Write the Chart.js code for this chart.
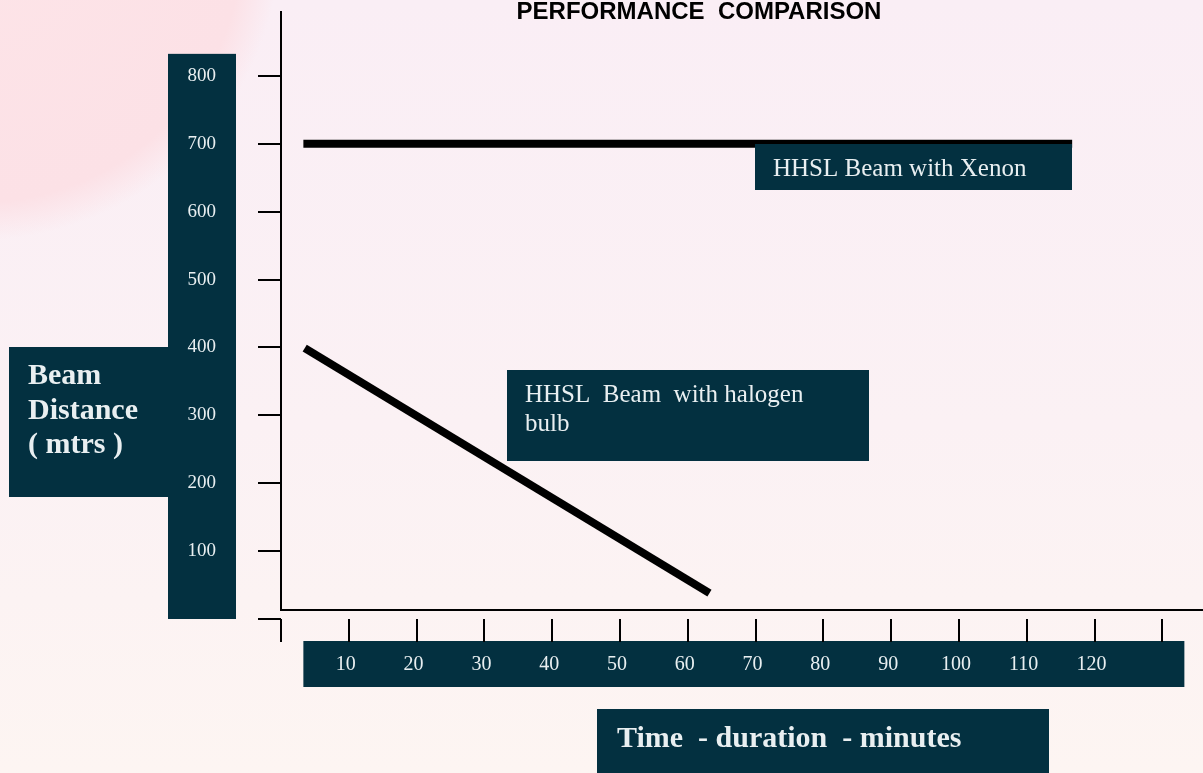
<!DOCTYPE html>
<html>
<head>
<meta charset="utf-8">
<title>Performance Comparison</title>
<script src="https://cdn.jsdelivr.net/npm/chart.js@4.4.1/dist/chart.umd.min.js"></script>
<style>
  html, body { margin: 0; padding: 0; }
  body {
    width: 1203px;
    height: 773px;
    overflow: hidden;
    background:
      radial-gradient(circle at -20px -60px, #fde4e8 0, #fce1e6 262px, rgba(251, 234, 240, 0) 300px),
      linear-gradient(to bottom, #faeef5 0%, #fbf1f4 55%, #fdf5f2 100%);
  }
  #wrap { position: relative; width: 1203px; height: 773px; }
</style>
</head>
<body>
<div id="wrap"><canvas id="perfCanvas"></canvas></div>
<script>
// values
const timeTicks = [0, 10, 20, 30, 40, 50, 60, 70, 80, 90, 100, 110, 120, 130];
const timeLabels = ["", "10", "20", "30", "40", "50", "60", "70", "80", "90", "100", "110", "120", ""];
const distanceTicks = [0, 100, 200, 300, 400, 500, 600, 700, 800];
const distanceLabels = ["", "100", "200", "300", "400", "500", "600", "700", "800"];

const xenonTime = [3.3, 116.7];
const xenonDistance = [700, 700];
const halogenTime = [3.5, 63.2];
const halogenDistance = [399, 38];

const chartTitle = "PERFORMANCE  COMPARISON";
const xenonLabel = ["HHSL Beam with Xenon"];
const halogenLabel = ["HHSL  Beam  with halogen", "bulb"];
const yTitle = ["Beam", "Distance", "( mtrs )"];
const xTitle = ["Time  - duration  - minutes"];

const BOX = "#033040";
const BOX_TEXT = "#e9eff1";
const SERIF = "'Liberation Serif', 'Times New Roman', serif";

function toPoints(xs, ys) {
  return xs.map((x, i) => ({ x: x, y: ys[i] }));
}

function textBox(ctx, rect, lines, font, textX, baselines) {
  ctx.fillStyle = BOX;
  ctx.fillRect(rect[0], rect[1], rect[2] - rect[0], rect[3] - rect[1]);
  ctx.fillStyle = BOX_TEXT;
  ctx.font = font;
  ctx.textAlign = "left";
  ctx.textBaseline = "alphabetic";
  lines.forEach((line, i) => ctx.fillText(line, textX, baselines[i]));
}

const decorations = {
  id: "decorations",
  beforeDraw(chart) {
    const ctx = chart.ctx;
    const x = chart.scales.x;
    const y = chart.scales.y;
    ctx.save();
    // boxes behind the tick labels
    ctx.fillStyle = BOX;
    ctx.fillRect(168, y.getPixelForValue(800) - 22, 68, y.getPixelForValue(0) - y.getPixelForValue(800) + 22);
    ctx.fillRect(x.getPixelForValue(3.3), x.top + 22, 881, 46);
    textBox(ctx, [9, 347, 168, 497], yTitle, "bold 30px " + SERIF, 28, [384, 419, 453]);
    textBox(ctx, [597, 709, 1049, 773], xTitle, "bold 30px " + SERIF, 617, [747]);

    // axis lines, the corner sits a little above the zero ticks
    const left = x.getPixelForValue(0);
    const cornerY = y.getPixelForValue(0) - 9;
    ctx.strokeStyle = "#000";
    ctx.lineWidth = 2;
    ctx.beginPath();
    ctx.moveTo(left, chart.chartArea.top + 1);
    ctx.lineTo(left, cornerY);
    ctx.lineTo(chart.width, cornerY);
    ctx.stroke();
    ctx.restore();
  },
  afterDatasetsDraw(chart) {
    const ctx = chart.ctx;
    ctx.save();
    textBox(ctx, [755, 144, 1072, 190], xenonLabel, "25px " + SERIF, 773, [176]);
    textBox(ctx, [507, 370, 869, 461], halogenLabel, "25px " + SERIF, 525, [402, 431]);

    ctx.fillStyle = "#000";
    ctx.font = "bold 24px 'Liberation Sans', Arial, sans-serif";
    ctx.textAlign = "center";
    ctx.textBaseline = "alphabetic";
    ctx.fillText(chartTitle, 699, 19);
    ctx.restore();
  }
};

const ctx = document.getElementById("perfCanvas").getContext("2d");

new Chart(ctx, {
  type: "line",
  data: {
    datasets: [
      {
        label: "HHSL Beam with Xenon",
        data: toPoints(xenonTime, xenonDistance),
        borderColor: "#000",
        borderWidth: 8,
        borderCapStyle: "butt",
        pointRadius: 0,
        fill: false,
        tension: 0,
      },
      {
        label: "HHSL Beam with halogen bulb",
        data: toPoints(halogenTime, halogenDistance),
        borderColor: "#000",
        borderWidth: 8,
        borderCapStyle: "butt",
        pointRadius: 0,
        fill: false,
        tension: 0,
      },
    ],
  },
  options: {
    responsive: true,
    maintainAspectRatio: false,
    animation: false,
    layout: { padding: { top: 10, left: 0, right: 0, bottom: 0 } },
    plugins: {
      legend: { display: false },
      tooltip: { enabled: false },
      title: { display: false },
    },
    scales: {
      x: {
        type: "linear",
        min: 0,
        max: 136,
        afterBuildTicks: (scale) => {
          scale.ticks = timeTicks.map((v) => ({ value: v }));
        },
        afterFit: (scale) => {
          scale.height = 154;
          scale.paddingLeft = 0;
          scale.paddingRight = 0;
        },
        ticks: {
          autoSkip: false,
          maxRotation: 0,
          padding: 11,
          labelOffset: -3,
          color: BOX_TEXT,
          font: { family: SERIF, size: 20 },
          callback: (value, index) => timeLabels[index],
        },
        grid: {
          drawOnChartArea: false,
          drawTicks: true,
          tickLength: 23,
          color: "#000",
          lineWidth: 2,
        },
        border: { display: false },
      },
      y: {
        type: "linear",
        min: 0,
        max: 897,
        afterBuildTicks: (scale) => {
          scale.ticks = distanceTicks.map((v) => ({ value: v }));
        },
        afterFit: (scale) => {
          scale.width = 281;
          scale.paddingTop = 0;
          scale.paddingBottom = 0;
        },
        ticks: {
          autoSkip: false,
          padding: 42,
          color: BOX_TEXT,
          font: { family: SERIF, size: 19 },
          callback: (value, index) => distanceLabels[index],
        },
        grid: {
          drawOnChartArea: false,
          drawTicks: true,
          tickLength: 23,
          color: "#000",
          lineWidth: 2,
        },
        border: { display: false },
      },
    },
  },
  plugins: [decorations],
});
</script>
</body>
</html>
